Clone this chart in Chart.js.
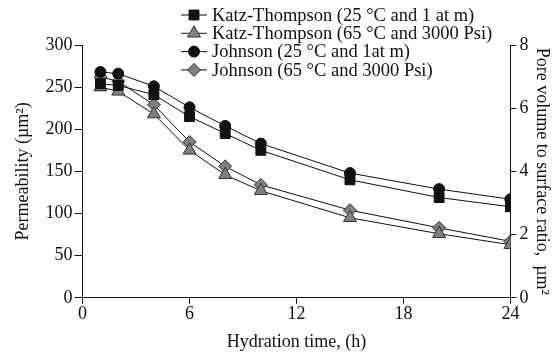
<!DOCTYPE html>
<html>
<head>
<meta charset="utf-8">
<script src="https://cdn.jsdelivr.net/npm/chart.js@4.4.0/dist/chart.umd.min.js"></script>
<style>
  html, body { margin: 0; padding: 0; background: #fff; }
  #wrap { width: 557px; height: 355px; position: relative; }
</style>
</head>
<body>
<div id="wrap"><canvas id="myChart"></canvas></div>
<script>
// hydration time (h)
const hours = [1, 2, 4, 6, 8, 10, 15, 20, 24];

// permeability values
const katz25 = [254, 252, 241, 215, 195, 175, 140, 119, 108];
const katz65 = [250, 245, 218, 175, 146, 127, 95, 76, 63];
const johnson25 = [268, 266, 251, 226, 204, 183, 148, 129, 117];
const johnson65 = [262, 257, 229, 185, 156, 134, 104, 83, 67];

const seriesLabels = [
    'Katz-Thompson (25 \u00B0C and 1 at m)',
    'Katz-Thompson (65 \u00B0C and 3000 Psi)',
    'Johnson (25 \u00B0C and 1at m)',
    'Johnson (65 \u00B0C and 3000 Psi)'
];

const xTicks = [0, 6, 12, 18, 24];
const leftTicks = [0, 50, 100, 150, 200, 250, 300];
const rightTicks = [0, 2, 4, 6, 8];

const serif = "'Liberation Serif', 'Times New Roman', serif";
const fontSize = 18;

function toPoints(values) {
    return values.map(function (v, i) { return {x: hours[i], y: v}; });
}

function makeSet(label, values, style, radius, fill) {
    return {
        label: label,
        data: toPoints(values),
        borderColor: '#111',
        borderWidth: 1,
        pointStyle: style,
        pointRadius: radius,
        pointHoverRadius: radius,
        pointBackgroundColor: fill,
        pointBorderColor: fill === '#111' ? '#111' : '#333',
        pointBorderWidth: 1,
        tension: 0,
        fill: false
    };
}

const data = {
    datasets: [
        makeSet(seriesLabels[0], katz25, 'rect', 7, '#111'),
        makeSet(seriesLabels[1], katz65, 'triangle', 7.5, '#808080'),
        makeSet(seriesLabels[2], johnson25, 'circle', 5.5, '#111'),
        makeSet(seriesLabels[3], johnson65, 'rectRot', 6.5, '#808080')
    ]
};

// legend drawn by hand so it can sit over the top of the plot like the original
const legendPlugin = {
    id: 'sideLegend',
    afterDraw: function (chart) {
        const ctx = chart.ctx;
        const x0 = 181, y0 = 15, rowH = 18.3, lineLen = 26;
        ctx.save();
        chart.data.datasets.forEach(function (ds, i) {
            const y = y0 + i * rowH;
            ctx.strokeStyle = '#111';
            ctx.lineWidth = 1;
            ctx.beginPath();
            ctx.moveTo(x0, y);
            ctx.lineTo(x0 + lineLen, y);
            ctx.stroke();
            ctx.fillStyle = ds.pointBackgroundColor;
            ctx.strokeStyle = ds.pointBorderColor;
            Chart.helpers.drawPoint(ctx, {
                pointStyle: ds.pointStyle,
                radius: ds.pointRadius,
                borderWidth: 1,
                rotation: 0
            }, x0 + lineLen / 2, y);
            ctx.fillStyle = '#111';
            ctx.font = '18.5px ' + serif;
            ctx.textBaseline = 'middle';
            ctx.textAlign = 'left';
            ctx.fillText(ds.label, x0 + lineLen + 5, y + 1);
        });
        ctx.restore();
    }
};

function fixedTicks(list) {
    return function (axis) {
        axis.ticks = list.map(function (v) { return {value: v}; });
    };
}

const config = {
    type: 'line',
    data: data,
    options: {
        responsive: true,
        maintainAspectRatio: false,
        animation: false,
        layout: { padding: {top: 45, right: 0, bottom: 2, left: 12} },
        plugins: {
            legend: { display: false },
            tooltip: { enabled: false }
        },
        scales: {
            x: {
                type: 'linear',
                min: 0,
                max: 24,
                afterBuildTicks: fixedTicks(xTicks),
                grid: { drawOnChartArea: false, drawTicks: true, tickLength: 6, color: '#111' },
                border: { display: true, color: '#111', width: 1 },
                ticks: { color: '#111', font: {family: serif, size: fontSize}, padding: 0, maxRotation: 0 },
                title: { display: true, text: 'Hydration time, (h)', color: '#111', font: {family: serif, size: fontSize}, padding: {top: 6, bottom: 0} }
            },
            y: {
                position: 'left',
                min: 0,
                max: 300,
                afterBuildTicks: fixedTicks(leftTicks),
                grid: { drawOnChartArea: false, drawTicks: true, tickLength: 8, color: '#111' },
                border: { display: true, color: '#111', width: 1 },
                ticks: { color: '#111', font: {family: serif, size: fontSize}, padding: 2 },
                title: { display: true, text: 'Permeability (\u00B5m\u00B2)', color: '#111', font: {family: serif, size: fontSize}, padding: {top: 0, bottom: 10} }
            },
            y2: {
                position: 'right',
                min: 0,
                max: 8,
                afterBuildTicks: fixedTicks(rightTicks),
                grid: { drawOnChartArea: false, drawTicks: true, tickLength: 6, color: '#111' },
                border: { display: true, color: '#111', width: 1 },
                ticks: { color: '#111', font: {family: serif, size: fontSize}, padding: 3 },
                title: { display: true, text: 'Pore volume to surface ratio,  \u00B5m\u00B2', color: '#111', font: {family: serif, size: fontSize}, padding: {top: 4, bottom: 0} }
            }
        }
    },
    plugins: [legendPlugin]
};

const myChart = new Chart(document.getElementById('myChart').getContext('2d'), config);
</script>
</body>
</html>
